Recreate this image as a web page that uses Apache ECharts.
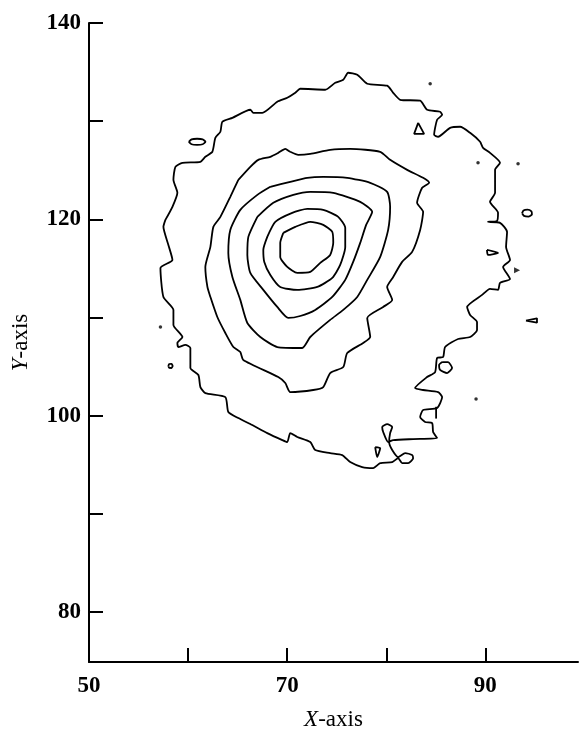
<!DOCTYPE html>
<html>
<head>
<meta charset="utf-8">
<script src="https://cdn.jsdelivr.net/npm/echarts@6/dist/echarts.min.js"></script>
<style>
html,body{margin:0;padding:0;background:#fff;}
#chart{width:580px;height:731px;}
</style>
</head>
<body>
<div id="chart"></div>
<script>
// ---- axis ticks / labels ----
const xTicks = [50, 60, 70, 80, 90];
const xLabels = [50, 70, 90];
const yTicks = [80, 90, 100, 110, 120, 130, 140];
const yLabels = [80, 100, 120, 140];

// ---- contour lines (data units), outermost to innermost ----
const contour1 = [
[57.71,119.94],[58.42,121.27],[58.92,122.70],[58.52,124.02],[58.72,125.35],[59.43,125.76],[61.24,125.86],[61.74,126.37],[62.45,126.88],[62.75,128.30],[63.26,128.92],[63.46,129.94],[64.47,130.34],[66.28,131.16],[66.58,130.85],[67.49,130.85],[69.00,131.98],[70.01,132.38],[70.82,132.89],[71.32,133.30],[73.84,133.20],[74.85,133.91],[75.66,134.22],[76.16,134.93],[77.07,134.73],[78.08,133.81],[80.09,133.61],[80.70,132.89],[81.40,132.18],[83.42,132.08],[84.12,131.16],[85.43,130.96],[85.64,130.65],[85.13,130.14],[84.83,128.61],[85.23,128.41],[86.44,129.32],[87.45,129.43],[88.46,128.81],[89.47,127.90],[89.77,127.28],[90.47,126.77],[91.48,125.76],[90.98,125.04],[90.98,122.70],[90.47,121.78],[91.28,120.66],[91.18,119.84],[90.27,119.74],[91.48,119.64],[92.19,118.72],[92.09,117.19],[92.49,115.86],[91.79,115.15],[92.49,113.93],[91.48,113.52],[91.28,112.81],[90.47,112.91],[89.67,112.30],[88.16,111.07],[88.46,110.26],[89.16,109.54],[89.16,108.73],[88.46,108.01],[87.25,107.81],[85.94,106.99],[85.74,105.97],[85.13,105.87],[84.93,104.44],[84.12,103.93],[82.91,102.81],[83.72,102.61],[85.23,102.40],[85.64,101.89],[85.13,100.77],[83.72,100.57],[83.42,99.86],[83.92,99.35],[84.63,99.24],[84.73,98.33],[85.13,97.71],[82.71,97.61],[80.70,97.51],[80.19,97.31],[79.69,98.33],[79.59,98.84],[80.09,99.14],[80.60,98.84],[80.39,98.22],[80.29,97.31],[80.60,96.49],[81.20,95.78],[81.91,96.18],[82.61,95.98],[82.71,95.67],[82.21,95.16],[81.60,95.16],[81.20,95.67],[80.60,95.27],[79.39,95.16],[78.68,94.66],[77.57,94.76],[76.36,95.27],[75.55,95.98],[74.34,96.18],[72.83,96.49],[72.33,97.31],[71.02,97.82],[70.31,98.22],[70.01,97.31],[69.51,97.51],[67.99,98.22],[66.48,99.04],[65.07,99.75],[64.06,100.37],[63.76,101.89],[61.74,102.30],[61.24,102.91],[61.04,104.14],[60.23,104.85],[60.23,106.89],[59.73,107.20],[59.02,106.99],[58.92,107.40],[59.43,108.01],[58.52,109.24],[58.52,110.77],[57.51,112.09],[57.21,115.05],[58.42,115.86],[58.01,117.39],[57.51,119.23]
];
const contour2 = [
[65.07,124.02],[66.28,125.35],[67.09,126.06],[68.30,126.37],[69.10,126.77],[69.81,127.18],[70.31,126.88],[71.12,126.57],[72.33,126.67],[74.34,127.08],[76.36,127.18],[79.39,126.88],[80.39,126.06],[82.11,125.04],[83.72,124.23],[84.33,123.72],[83.62,123.21],[83.11,121.68],[83.72,120.76],[83.42,118.92],[82.61,116.68],[81.60,115.66],[80.70,114.13],[80.09,113.11],[80.60,111.79],[79.69,111.07],[78.08,109.95],[78.38,108.01],[77.67,107.40],[76.06,106.38],[75.66,104.95],[74.34,104.34],[73.64,102.91],[72.63,102.61],[70.31,102.40],[69.81,103.32],[69.10,103.93],[65.57,105.67],[65.27,106.48],[64.57,106.99],[63.76,108.42],[62.95,110.05],[62.25,112.09],[61.95,113.11],[61.74,115.15],[62.25,117.19],[62.55,119.23],[63.26,120.25],[64.26,122.29]
];
const contour3 = [
[68.30,123.31],[70.31,123.82],[72.03,124.23],[73.64,124.33],[76.06,124.23],[78.38,123.72],[80.09,122.80],[80.39,121.27],[80.19,118.92],[79.39,116.17],[78.08,113.83],[77.07,112.09],[75.66,110.77],[74.34,109.75],[72.33,108.01],[71.52,106.89],[69.00,106.99],[67.29,108.01],[65.98,109.44],[65.27,111.79],[64.47,114.13],[64.06,116.58],[64.26,118.92],[65.27,120.96],[66.99,122.49]
];
const contour4 = [
[66.99,120.25],[68.60,121.68],[70.62,122.49],[72.33,122.80],[74.65,122.70],[77.37,121.78],[78.58,120.76],[77.97,119.43],[77.37,117.60],[76.66,115.66],[75.86,113.83],[74.55,112.09],[72.83,110.77],[71.32,110.15],[70.11,109.95],[69.00,111.07],[67.59,112.81],[66.28,114.54],[65.98,116.37],[66.08,118.21]
];
const contour5 = [
[67.99,118.21],[68.80,119.74],[70.51,120.66],[72.03,121.06],[73.64,120.96],[75.15,120.25],[75.86,119.13],[75.86,117.19],[75.35,115.35],[74.55,114.03],[73.04,113.11],[71.02,112.81],[69.30,113.11],[68.30,114.33],[67.69,115.66],[67.59,116.88]
];
const contour6 = [
[69.61,118.62],[70.82,119.23],[72.33,119.74],[73.64,119.43],[74.55,118.72],[74.65,117.60],[74.34,116.37],[73.34,115.56],[72.33,114.64],[71.02,114.54],[70.01,115.15],[69.30,116.17],[69.30,117.60]
];

// ---- small islands (closed) ----
const islandA = [[60.07,127.90],[60.35,128.15],[60.91,128.21],[61.47,128.15],[61.75,127.90],[61.47,127.65],[60.91,127.59],[60.35,127.65]];
const islandB = [[83.22,129.83],[83.82,128.71],[82.81,128.71]];
const islandC = [[93.70,120.61],[93.85,120.90],[94.25,120.98],[94.65,120.80],[94.70,120.50],[94.35,120.28],[93.90,120.35]];
const islandD = [[90.16,116.88],[91.28,116.58],[90.27,116.37]];
const islandE = [[94.10,109.68],[95.21,109.92],[95.21,109.47]];
const islandG = [[85.64,105.46],[86.24,105.46],[86.64,104.85],[86.14,104.34],[85.43,104.65],[85.33,105.16]];
const islandH = [[58.00,105.06],[58.10,105.26],[58.32,105.28],[58.44,105.06],[58.32,104.85],[58.10,104.86]];
const islandI = [[78.88,96.80],[79.39,96.70],[79.08,95.78]];
// open spur
const spur = [[85.03,100.90],[85.03,99.70]];
// isolated dots
const dots = [[84.43,133.81],[89.26,125.76],[93.30,125.65],[89.06,101.69],[57.21,109.03]];
const arrowDots = [[93.20,114.80]];

const closedRings = [contour1, contour2, contour3, contour4, contour5, contour6,
  islandA, islandB, islandC, islandD, islandE, islandG, islandH, islandI];

const FONT = '"Liberation Serif", "Times New Roman", serif';
const lineSeries = closedRings.map(r => ({
  type: 'line',
  data: r.concat([r[0]]),
  showSymbol: false,
  smooth: 0.2,
  lineStyle: { color: '#000', width: 1.8 },
  silent: true
}));
lineSeries.push({
  type: 'line', data: spur, showSymbol: false,
  lineStyle: { color: '#000', width: 1.8 }, silent: true
});
lineSeries.push({
  type: 'scatter', data: dots, symbol: 'circle', symbolSize: 3.5,
  itemStyle: { color: '#000' }, silent: true
});
lineSeries.push({
  type: 'scatter', data: arrowDots, symbol: 'triangle', symbolSize: 6, symbolRotate: -90,
  itemStyle: { color: '#000' }, silent: true
});

const chart = echarts.init(document.getElementById('chart'), null, { renderer: 'canvas' });
chart.setOption({
  animation: false,
  backgroundColor: '#fff',
  grid: { left: 89, top: 23, right: 2, bottom: 69, containLabel: false, outerBoundsMode: 'none' },
  xAxis: {
    type: 'value', min: 50, max: 99.35,
    axisLine: { lineStyle: { color: '#000', width: 2 } },
    axisTick: { inside: true, length: 14, customValues: xTicks, lineStyle: { color: '#000', width: 2 } },
    axisLabel: { customValues: xLabels, margin: 13, color: '#000', fontFamily: FONT, fontWeight: 'bold', fontSize: 23 },
    splitLine: { show: false },
    name: '{i|X}-axis', nameLocation: 'middle', nameGap: 46,
    nameTextStyle: { color: '#000', fontFamily: FONT, fontSize: 23,
      rich: { i: { fontStyle: 'italic', fontFamily: FONT, fontSize: 23, color: '#000' } } }
  },
  yAxis: {
    type: 'value', min: 74.9, max: 140,
    axisLine: { lineStyle: { color: '#000', width: 2 } },
    axisTick: { inside: true, length: 14, customValues: yTicks, lineStyle: { color: '#000', width: 2 } },
    axisLabel: { customValues: yLabels, margin: 8, color: '#000', fontFamily: FONT, fontWeight: 'bold', fontSize: 23 },
    splitLine: { show: false },
    name: '{i|Y}-axis', nameLocation: 'middle', nameGap: 57,
    nameTextStyle: { color: '#000', fontFamily: FONT, fontSize: 23,
      rich: { i: { fontStyle: 'italic', fontFamily: FONT, fontSize: 23, color: '#000' } } }
  },
  series: lineSeries
});
</script>
</body>
</html>
